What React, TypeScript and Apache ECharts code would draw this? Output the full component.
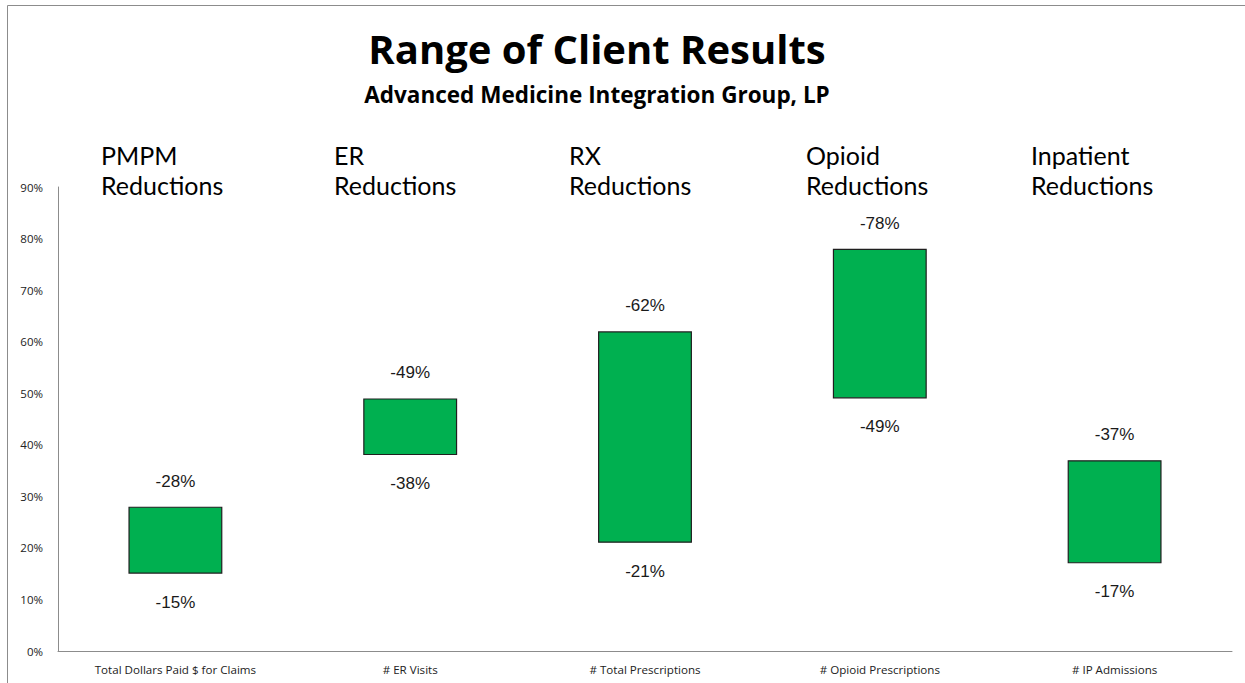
import React, { useEffect, useRef } from "react";
import * as echarts from "echarts";

const categories = [
  "Total Dollars Paid $ for Claims",
  "# ER Visits",
  "# Total Prescriptions",
  "# Opioid Prescriptions",
  "# IP Admissions",
];
const headers = [
  ["PMPM", "Reductions"],
  ["ER", "Reductions"],
  ["RX", "Reductions"],
  ["Opioid", "Reductions"],
  ["Inpatient", "Reductions"],
];
const headerX = [101, 334, 569, 806, 1031];
const lowValues = [15, 38, 21, 49, 17];
const highValues = [28, 49, 62, 78, 37];
const yTicks = [0, 10, 20, 30, 40, 50, 60, 70, 80, 90];

export default function App() {
  const ref = useRef<HTMLDivElement>(null);
  useEffect(() => {
    document.body.style.margin = "0";
    const chart = echarts.init(ref.current!, null, { renderer: "svg" });
    const headerGraphics: any[] = [];
    headers.forEach((h, i) => {
      headerGraphics.push({
        type: "text",
        x: headerX[i],
        y: 155,
        style: { text: h[0], font: "25px Lato", fill: "#000", textAlign: "left", textVerticalAlign: "middle" },
      });
      headerGraphics.push({
        type: "text",
        x: headerX[i],
        y: 185,
        style: { text: h[1], font: "25px Lato", fill: "#000", textAlign: "left", textVerticalAlign: "middle" },
      });
    });
    chart.setOption({
      animation: false,
      grid: { left: 58, right: 13, top: 187, bottom: 32, containLabel: false },
      graphic: [
        {
          type: "rect",
          shape: { x: 7.5, y: 5.5, width: 1400, height: 800 },
          style: { fill: "none", stroke: "#8c8c8c", lineWidth: 1 },
          z: -10,
        },
        {
          type: "text",
          x: 597,
          y: 48,
          style: { text: "Range of Client Results", font: "bold 40px 'Open Sans'", fill: "#000", textAlign: "center", textVerticalAlign: "middle" },
        },
        {
          type: "text",
          x: 597,
          y: 94,
          style: { text: "Advanced Medicine Integration Group, LP", font: "bold 22.5px 'Open Sans'", fill: "#000", textAlign: "center", textVerticalAlign: "middle" },
        },
        ...headerGraphics,
      ],
      xAxis: {
        type: "category",
        data: categories,
        axisLine: { show: true, lineStyle: { color: "#8c8c8c", width: 1 } },
        axisTick: { show: false },
        axisLabel: { fontFamily: "Open Sans", fontSize: 11.6, color: "#222", margin: 12, interval: 0 },
      },
      yAxis: {
        type: "value",
        min: 0,
        max: 90,
        interval: 10,
        splitLine: { show: false },
        axisLine: { show: true, lineStyle: { color: "#8c8c8c", width: 1 } },
        axisTick: { show: false },
        axisLabel: {
          fontFamily: "Open Sans",
          fontSize: 11.5,
          color: "#222",
          margin: 15,
          formatter: (v: number) => (yTicks.includes(v) ? v + "%" : ""),
        },
      },
      series: [
        {
          type: "bar",
          stack: "range",
          data: lowValues,
          barWidth: "40%",
          itemStyle: { color: "transparent" },
          label: {
            show: true,
            position: "insideTop",
            distance: 20,
            formatter: (p: any) => "-" + lowValues[p.dataIndex] + "%",
            fontFamily: "Liberation Sans",
            fontSize: 17,
            color: "#1a1a1a",
          },
          silent: true,
        },
        {
          type: "bar",
          stack: "range",
          data: highValues.map((h, i) => h - lowValues[i]),
          barWidth: "40%",
          itemStyle: { color: "#00B050", borderColor: "#1f1f1f", borderWidth: 1.2 },
          label: {
            show: true,
            position: "top",
            distance: 17,
            formatter: (p: any) => "-" + highValues[p.dataIndex] + "%",
            fontFamily: "Liberation Sans",
            fontSize: 17,
            color: "#1a1a1a",
          },
        },
      ],
    });
    return () => chart.dispose();
  }, []);
  return <div ref={ref} style={{ width: 1245, height: 683 }} />;
}
